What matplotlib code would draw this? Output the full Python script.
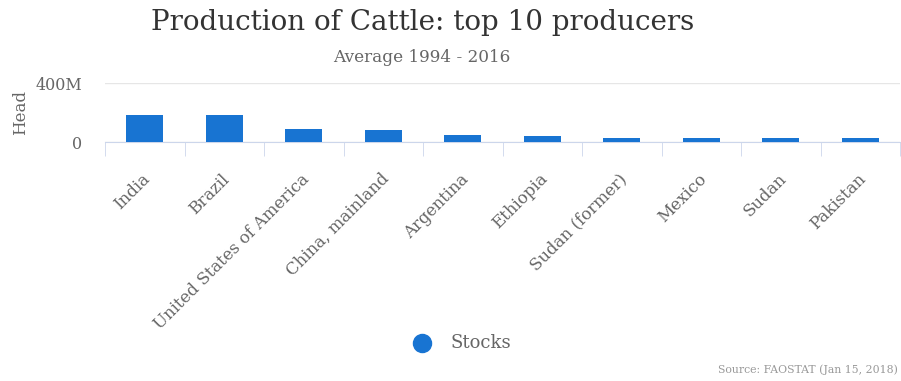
import matplotlib.pyplot as plt
import matplotlib.transforms as mtransforms
import numpy as np
from matplotlib.ticker import FuncFormatter

countries = ["India", "Brazil", "United States of America", "China, mainland",
             "Argentina", "Ethiopia", "Sudan (former)", "Mexico", "Sudan", "Pakistan"]
# average stocks, million head
stocks = [186, 185, 90, 79, 48, 38, 27, 27, 26, 25]

bar_color = "#1874d2"
text_color = "#666666"

plt.rcParams['font.family'] = ['DejaVu Serif']

fig = plt.figure(figsize=(9.01, 3.81), dpi=100)
ax = fig.add_axes([105 / 901, 1 - 142 / 381, 795 / 901, 59 / 381])

x = np.arange(len(countries))
ax.bar(x, np.array(stocks) * 1e6, width=0.47, color=bar_color, zorder=3)

ax.set_xlim(-0.5, len(countries) - 0.5)
ax.set_ylim(0, 400e6)
ax.set_yticks([0, 400e6])
ax.yaxis.set_major_formatter(FuncFormatter(lambda v, p: "0" if v == 0 else f"{v / 1e6:.0f}M"))
ax.grid(axis="y", color="#e6e6e6", linewidth=1, zorder=0)
ax.tick_params(axis="y", length=0, pad=16.5, labelsize=11.5, labelcolor=text_color)
ax.set_ylabel("Head", fontsize=12, color=text_color)
ax.yaxis.set_label_coords(-76 / 795, 0.5)

for side in ["top", "right", "left"]:
    ax.spines[side].set_visible(False)
ax.spines["bottom"].set_color("#ccd6eb")

# category boundaries get the tick marks, labels sit at the centres
ax.set_xticks(np.arange(len(countries) + 1) - 0.5, minor=True)
ax.tick_params(axis="x", which="minor", length=10, color="#ccd6eb")
ax.set_xticks(x)
ax.set_xticklabels(countries, rotation=45, ha="right", rotation_mode="anchor",
                   fontsize=12, color=text_color)
ax.tick_params(axis="x", which="major", length=0, pad=20.5)
shift = mtransforms.ScaledTranslation(-3 / 100, 0, fig.dpi_scale_trans)
for lbl in ax.get_xticklabels():
    lbl.set_transform(lbl.get_transform() + shift)

fig.text(0.469, 1 - 22 / 381, "Production of Cattle: top 10 producers",
         ha="center", va="center", fontsize=20, color="#333333")
fig.text(0.468, 1 - 57 / 381, "Average 1994 - 2016",
         ha="center", va="center", fontsize=12.2, color=text_color)

# legend
fig.lines.append(plt.Line2D([422 / 901], [1 - 343 / 381], marker="o", markersize=13,
                            color=bar_color, transform=fig.transFigure))
fig.text(450 / 901, 1 - 343 / 381, "Stocks", ha="left", va="center",
         fontsize=13, color=text_color)

fig.text(898 / 901, 1 - 370 / 381, "Source: FAOSTAT (Jan 15, 2018)",
         ha="right", va="center", fontsize=7.8, color="#999999")

fig.savefig("out.png", dpi=100)
